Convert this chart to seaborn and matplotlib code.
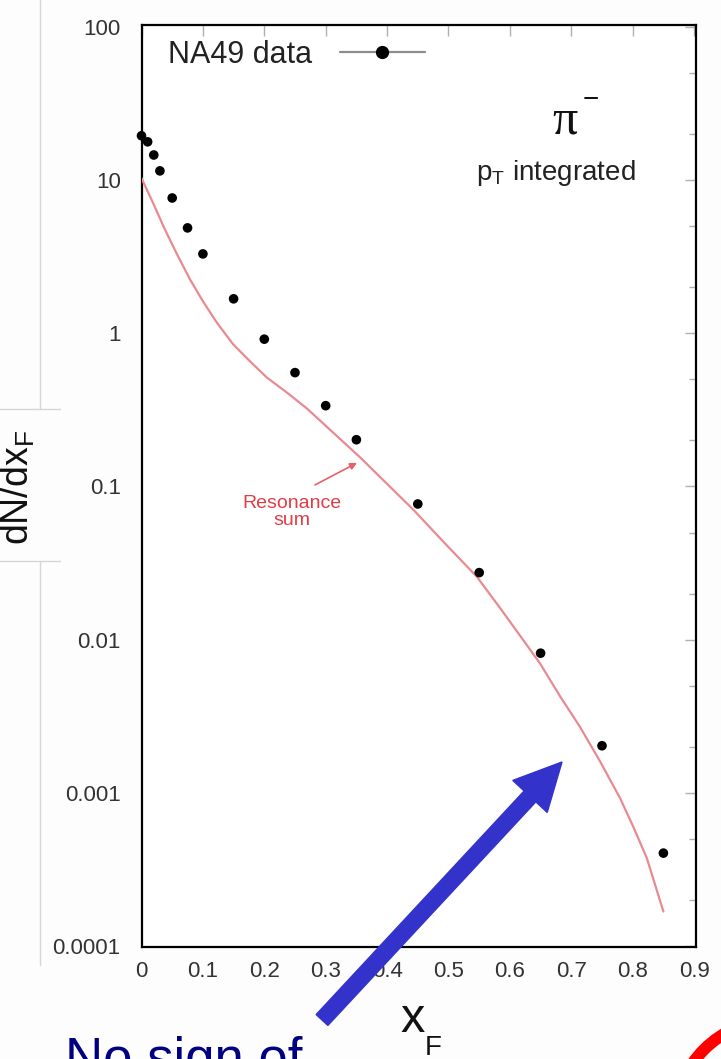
import matplotlib
matplotlib.use("Agg")
import matplotlib.pyplot as plt
import seaborn as sns
import pandas as pd
import numpy as np
from matplotlib.lines import Line2D
from matplotlib.patches import FancyArrow, Ellipse
from matplotlib.transforms import IdentityTransform
from matplotlib.ticker import LogLocator, NullFormatter, FixedLocator

# ---------------- data ----------------
data_x = [0.0, 0.01, 0.02, 0.03, 0.05, 0.075, 0.10, 0.15, 0.20, 0.25, 0.30,
          0.35, 0.45, 0.55, 0.65, 0.75, 0.85]
data_y = [19.5, 17.8, 14.6, 11.5, 7.65, 4.88, 3.30, 1.68, 0.916, 0.554, 0.337,
          0.202, 0.0769, 0.0274, 0.00816, 0.00203, 0.000404]

res_x = [0.0, 0.019, 0.036, 0.057, 0.079, 0.10, 0.123, 0.149, 0.177, 0.204,
         0.237, 0.269, 0.302, 0.356, 0.421, 0.443, 0.494, 0.546, 0.584, 0.649,
         0.682, 0.714, 0.747, 0.779, 0.801, 0.823, 0.850]
res_y = [10.3, 7.07, 4.97, 3.33, 2.25, 1.62, 1.17, 0.85, 0.655, 0.515,
         0.41, 0.324, 0.245, 0.155, 0.0859, 0.0704, 0.0426, 0.0258, 0.0161, 0.0070,
         0.00425, 0.0027, 0.00160, 0.000930, 0.000600, 0.000375, 0.000168]

x_ticks = [0.0, 0.1, 0.2, 0.3, 0.4, 0.5, 0.6, 0.7, 0.8, 0.9]
x_tick_labels = ["0", "0.1", "0.2", "0.3", "0.4", "0.5", "0.6", "0.7", "0.8", "0.9"]
y_ticks = [1e-4, 1e-3, 1e-2, 1e-1, 1, 10, 100]
y_tick_labels = ["0.0001", "0.001", "0.01", "0.1", "1", "10", "100"]

df_data = pd.DataFrame({"xF": data_x, "dN": data_y})
df_res = pd.DataFrame({"xF": res_x, "dN": res_y})

# ---------------- style ----------------
sns.set_theme(style="white")
plt.rcParams["font.family"] = ["Liberation Sans", "DejaVu Sans"]
plt.rcParams["mathtext.fontset"] = "custom"
plt.rcParams["mathtext.rm"] = "Liberation Sans"
plt.rcParams["mathtext.it"] = "Liberation Sans:italic"
plt.rcParams["mathtext.bf"] = "Liberation Sans:bold"

W, H = 721, 1059
fig = plt.figure(figsize=(W / 100, H / 100), dpi=100)
fig.patch.set_facecolor("#fdfdfd")


def fx(px):
    return px / W


def fy(py):
    return 1 - py / H


ax = fig.add_axes([fx(141.5), fy(947), (696 - 141.5) / W, (947 - 25) / H])
ax.set_facecolor("white")

sns.lineplot(data=df_res, x="xF", y="dN", ax=ax, color="#e98a90", lw=1.6,
             estimator=None, sort=False, zorder=3)
sns.scatterplot(data=df_data, x="xF", y="dN", ax=ax, color="black", s=48,
                edgecolor="none", linewidth=0, zorder=5, clip_on=False)

ax.set_yscale("log")
ax.set_xlim(0, 0.9031)
ax.set_ylim(10 ** (-4 - 1 / 153.2), 10 ** (2 + 2 / 153.2))
ax.xaxis.set_major_locator(FixedLocator(x_ticks))
ax.set_xticklabels(x_tick_labels)
ax.yaxis.set_major_locator(FixedLocator(y_ticks))
ax.set_yticklabels(y_tick_labels)
ax.yaxis.set_minor_locator(LogLocator(base=10, subs=[2, 5]))
ax.yaxis.set_minor_formatter(NullFormatter())

ax.tick_params(which="both", direction="in", top=True, right=True,
               color="#b0b0b0", labelcolor="#333333", labelsize=16)
ax.tick_params(which="major", length=8, width=1)
ax.tick_params(which="minor", length=5, width=1)
ax.tick_params(axis="x", pad=10)
ax.tick_params(axis="y", pad=15)
for s in ax.spines.values():
    s.set_color("black")
    s.set_linewidth(1.6)

# axis labels
ax.set_ylabel(r"dN/dx$_\mathregular{F}$", fontsize=27, color="#111111")
ax.yaxis.set_label_coords((37 - 141.5) / 554.5, (947 - 487) / 922)
ax.set_xlabel("x", fontsize=35, color="#111111")
ax.xaxis.set_label_coords((412.5 - 141.5) / 554.5, (947 - 1032) / 922)
ax.xaxis.label.set_verticalalignment("baseline")
fig.text(fx(433), fy(1055), "F", fontsize=20, color="#111111",
         ha="center", va="baseline")

# legend (text first, handle after)
handle = Line2D([], [], color="#8c8c8c", lw=1.6, marker="o", markersize=8.5,
                markerfacecolor="black", markeredgecolor="black")
leg = ax.legend(handles=[handle], labels=["NA49 data"], loc="center left",
                bbox_to_anchor=((168 - 141.5) / 554.5, (947 - 55) / 922),
                frameon=False, markerfirst=False, fontsize=22,
                handlelength=2.8, handletextpad=0.9, borderpad=0,
                borderaxespad=0)
for t in leg.get_texts():
    t.set_color("#222222")

# particle label
fig.text(fx(565), fy(134), "\u03c0", fontsize=36, family="Liberation Serif",
         color="#111111", ha="center", va="baseline")
fig.text(fx(591), fy(107), "\u2212", fontsize=20, color="#111111",
         ha="center", va="baseline")
ax.text((556 - 141.5) / 554.5, (947 - 173) / 922, r"p$_\mathregular{T}$ integrated",
        transform=ax.transAxes, fontsize=20, color="#222222",
        ha="center", va="center")

# resonance annotation
ax.annotate("", xy=(0.351, 0.1426), xytext=(0.2826, 0.1024),
            arrowprops=dict(arrowstyle="-|>", color="#e8606a", lw=1.2,
                            mutation_scale=10, shrinkA=0, shrinkB=0))
ax.text(0.2455, 0.0683, "Resonance\nsum", fontsize=14, color="#e23c45",
        ha="center", va="center", linespacing=1.0)

# slide decorations
idt = IdentityTransform()
for (x0, y0, x1, y1) in [(40, 0, 40, 409), (40, 561, 40, 965),
                         (0, 409, 60, 409), (0, 561, 60, 561)]:
    fig.add_artist(Line2D([x0, x1], [H - y0, H - y1], color="#d6d6d6", lw=1,
                          transform=idt))

fig.add_artist(FancyArrow(322, H - 1020, 240, 258, width=16, head_width=47,
                          head_length=47, length_includes_head=True,
                          color="#3333cc", transform=idt))
fig.add_artist(Ellipse((775, H - 1120), 200, 200, fill=False, ec="#ff0000",
                       lw=8.6, transform=idt))
fig.text(fx(65), fy(1075), "No sign of", fontsize=38, color="#000080",
         ha="left", va="baseline")

fig.savefig("out.png", dpi=100, facecolor=fig.get_facecolor())
